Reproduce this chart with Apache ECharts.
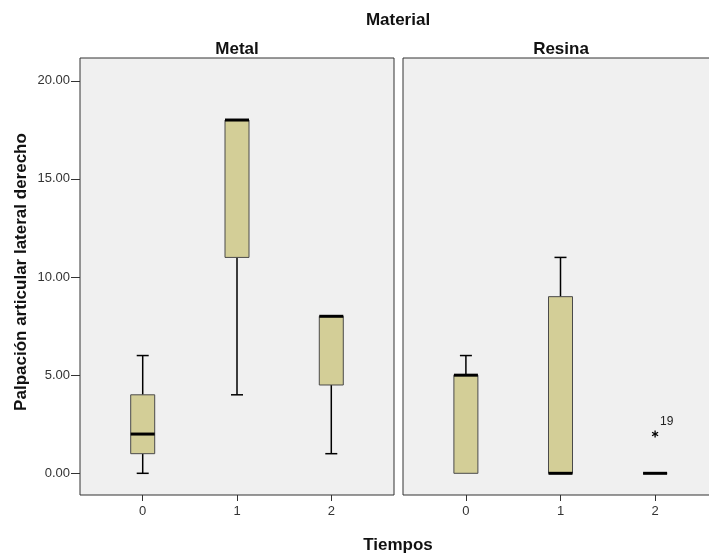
<!DOCTYPE html>
<html>
<head>
<meta charset="utf-8">
<script src="https://cdn.jsdelivr.net/npm/echarts@6.0.0/dist/echarts.min.js"></script>
<style>
  html, body { margin: 0; padding: 0; background: #fff; }
  #main { width: 709px; height: 558px; }
</style>
</head>
<body>
<div id="main"></div>
<script>
// Tiempos on the x axis, one box per time point
const tiempos = [0, 1, 2];
const yTicks = [0, 5, 10, 15, 20];

// Metal
const metalMin = [0, 4, 1];
const metalQ1 = [1, 11, 4.5];
const metalMed = [2, 18, 8];
const metalQ3 = [4, 18, 8];
const metalMax = [6, 18, 8];

// Resina
const resinaMin = [0, 0, 0];
const resinaQ1 = [0, 0, 0];
const resinaMed = [5, 0, 0];
const resinaQ3 = [5, 9, 0];
const resinaMax = [6, 11, 0];

// outlier in Resina, tiempo 2 (case 19)
const outlierX = [2];
const outlierY = [2];
const outlierCase = ['19'];

const boxFill = '#d3ce97';
const font = 'Liberation Sans, Arial, sans-serif';

const chart = echarts.init(document.getElementById('main'));

function boxRows(mins, q1s, meds, q3s, maxs) {
    return tiempos.map((t, i) => [t, mins[i], q1s[i], meds[i], q3s[i], maxs[i]]);
}

function renderBox(params, api) {
    const x = api.value(0);
    const pMin = api.coord([x, api.value(1)]);
    const pQ1 = api.coord([x, api.value(2)]);
    const pMed = api.coord([x, api.value(3)]);
    const pQ3 = api.coord([x, api.value(4)]);
    const pMax = api.coord([x, api.value(5)]);
    const cx = pMed[0];
    const hw = 12;
    const cap = 6;
    const kids = [];
    const line = (x1, y1, x2, y2, w) => ({
        type: 'line',
        shape: { x1: x1, y1: y1, x2: x2, y2: y2 },
        style: { stroke: '#000', lineWidth: w }
    });
    if (pMax[1] < pQ3[1] - 0.5) {
        kids.push(line(cx, pQ3[1], cx, pMax[1], 1.5));
        kids.push(line(cx - cap, pMax[1], cx + cap, pMax[1], 1.5));
    }
    if (pMin[1] > pQ1[1] + 0.5) {
        kids.push(line(cx, pQ1[1], cx, pMin[1], 1.5));
        kids.push(line(cx - cap, pMin[1], cx + cap, pMin[1], 1.5));
    }
    kids.push({
        type: 'rect',
        shape: { x: cx - hw, y: pQ3[1], width: hw * 2, height: pQ1[1] - pQ3[1] },
        style: { fill: boxFill, stroke: '#4a4a4a', lineWidth: 1 }
    });
    kids.push(line(cx - hw, pMed[1], cx + hw, pMed[1], 3));
    return { type: 'group', children: kids };
}

function renderOutlier(params, api) {
    const p = api.coord([api.value(0), api.value(1)]);
    const r = 3.5;
    const kids = [];
    for (let k = 0; k < 3; k++) {
        const a = Math.PI / 2 + k * Math.PI / 3;
        kids.push({
            type: 'line',
            shape: { x1: p[0] - r * Math.cos(a), y1: p[1] - r * Math.sin(a), x2: p[0] + r * Math.cos(a), y2: p[1] + r * Math.sin(a) },
            style: { stroke: '#000', lineWidth: 1.3 }
        });
    }
    kids.push({
        type: 'text',
        style: { text: outlierCase[params.dataIndex], x: p[0] + 5, y: p[1] - 12, font: '12px ' + font, fill: '#222', align: 'left', verticalAlign: 'middle' }
    });
    return { type: 'group', children: kids };
}

const xAxisBase = {
    type: 'value',
    min: -0.665,
    max: 2.665,
    splitLine: { show: false },
    axisLine: { show: false, onZero: false },
    axisTick: { show: true, customValues: tiempos, length: 6, lineStyle: { color: '#333' } },
    axisLabel: { customValues: tiempos, color: '#333', fontSize: 13, fontFamily: font, margin: 10 }
};

const yAxisBase = {
    type: 'value',
    min: -1.105,
    max: 21.16,
    splitLine: { show: false },
    axisLine: { show: false, onZero: false }
};

chart.setOption({
    backgroundColor: '#fff',
    animation: false,
    grid: [
        { left: 80, top: 58, width: 314, height: 437, outerBoundsMode: 'none', show: true, backgroundColor: '#f0f0f0', borderColor: '#333', borderWidth: 1 },
        { left: 403, top: 58, width: 315, height: 437, outerBoundsMode: 'none', show: true, backgroundColor: '#f0f0f0', borderColor: '#333', borderWidth: 1 }
    ],
    xAxis: [
        Object.assign({ gridIndex: 0 }, xAxisBase),
        Object.assign({ gridIndex: 1 }, xAxisBase)
    ],
    yAxis: [
        Object.assign({ gridIndex: 0 }, yAxisBase, {
            axisTick: { show: true, customValues: yTicks, length: 9, lineStyle: { color: '#333' } },
            axisLabel: { customValues: yTicks, color: '#333', fontSize: 13, fontFamily: font, margin: 10, formatter: v => v.toFixed(2) }
        }),
        Object.assign({ gridIndex: 1 }, yAxisBase, {
            axisTick: { show: false },
            axisLabel: { show: false }
        })
    ],
    series: [
        {
            name: 'Metal', type: 'custom', xAxisIndex: 0, yAxisIndex: 0,
            renderItem: renderBox,
            encode: { x: 0, y: [1, 2, 3, 4, 5] },
            data: boxRows(metalMin, metalQ1, metalMed, metalQ3, metalMax)
        },
        {
            name: 'Resina', type: 'custom', xAxisIndex: 1, yAxisIndex: 1,
            renderItem: renderBox,
            encode: { x: 0, y: [1, 2, 3, 4, 5] },
            data: boxRows(resinaMin, resinaQ1, resinaMed, resinaQ3, resinaMax)
        },
        {
            name: 'Atípico', type: 'custom', xAxisIndex: 1, yAxisIndex: 1,
            renderItem: renderOutlier,
            encode: { x: 0, y: 1 },
            data: outlierX.map((x, i) => [x, outlierY[i]])
        }
    ],
    graphic: [
        { type: 'text', x: 398, y: 20, style: { text: 'Material', font: 'bold 17px ' + font, fill: '#111', align: 'center', verticalAlign: 'middle' } },
        { type: 'text', x: 237, y: 49, style: { text: 'Metal', font: 'bold 17px ' + font, fill: '#111', align: 'center', verticalAlign: 'middle' } },
        { type: 'text', x: 561, y: 49, style: { text: 'Resina', font: 'bold 17px ' + font, fill: '#111', align: 'center', verticalAlign: 'middle' } },
        { type: 'text', x: 398, y: 545, style: { text: 'Tiempos', font: 'bold 17px ' + font, fill: '#111', align: 'center', verticalAlign: 'middle' } },
        { type: 'text', x: 21, y: 272, rotation: Math.PI / 2, style: { text: 'Palpación articular lateral derecho', font: 'bold 17px ' + font, fill: '#111', align: 'center', verticalAlign: 'middle' } }
    ]
});
</script>
</body>
</html>
